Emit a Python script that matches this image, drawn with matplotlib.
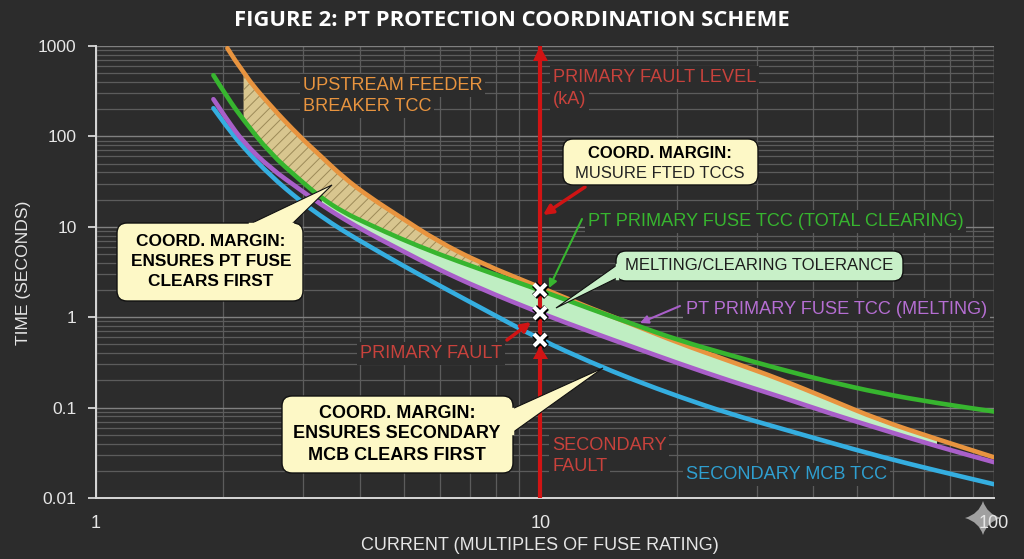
import numpy as np
import matplotlib
matplotlib.use("Agg")
import matplotlib.pyplot as plt
from matplotlib.patches import FancyBboxPatch, Polygon, PathPatch
from matplotlib.path import Path
from matplotlib.ticker import LogLocator, NullFormatter

plt.rcParams['font.family'] = ['Liberation Sans', 'DejaVu Sans']
plt.rcParams['hatch.linewidth'] = 0.7

TITLE = "FIGURE 2: PT PROTECTION COORDINATION SCHEME"
X_LABEL = "CURRENT (MULTIPLES OF FUSE RATING)"
Y_LABEL = "TIME (SECONDS)"

current = [1.905, 2.045, 2.22, 2.54, 2.96, 3.28, 3.68, 4.2, 4.92, 5.9, 7.38, 10, 13, 16,
           20.3, 26, 33.8, 43, 56, 75, 100]
feeder_tcc = [np.nan, 945, 490, 219, 98, 61, 35.4, 21.4, 12.8, 7.08, 3.98, 2.14, 1.24, 0.83,
              0.513, 0.33, 0.206, 0.126, 0.0726, 0.0447, 0.0282]
total_clearing = [475, 269, 151, 65, 32.7, 21.2, 14.5, 10.6, 7.4, 5.1, 3.39, 1.99, 1.217, 0.84,
                  0.55, 0.385, 0.266, 0.195, 0.1445, 0.112, 0.0905]
melting = [258, 151, 86, 44.7, 25.7, 17.8, 12.3, 8.4, 5.56, 3.47, 2.07, 1.11, 0.68, 0.468,
           0.305, 0.2, 0.132, 0.088, 0.0582, 0.0372, 0.0249]
mcb_tcc = [205, 125, 75, 37, 19.3, 13.2, 9.0, 6.1, 3.86, 2.34, 1.28, 0.565, 0.313, 0.204,
           0.131, 0.0863, 0.059, 0.0418, 0.0288, 0.02, 0.0142]
fault_current = [10, 10, 10]
fault_times = [2.0, 1.1, 0.56]

x_ticks = [1.05, 10, 100]
x_tick_labels = ["1", "10", "100"]
y_ticks = [0.01, 0.1, 1, 10, 100, 1000]
y_tick_labels = ["0.01", "0.1", "1", "10", "100", "1000"]

BG = '#2c2c2c'
ORANGE, GREEN, PURPLE, BLUE, RED = '#e8943f', '#37b52f', '#a95fc9', '#35aee0', '#d01414'
TEXT_RED = '#c8423c'
W, H = 1024, 559

fig = plt.figure(figsize=(W / 100, H / 100), dpi=100, facecolor=BG)

# corner sparkle sits behind the tick labels
bg = fig.add_axes([0, 0, 1, 1], facecolor='none', zorder=-1)
bg.set_xlim(0, W)
bg.set_ylim(H, 0)
bg.axis('off')
cx, cy, rx, ry, k = 983, 518, 18, 17, 4
verts = [(cx, cy - ry), (cx + k, cy - k), (cx + rx, cy), (cx + k, cy + k), (cx, cy + ry),
         (cx - k, cy + k), (cx - rx, cy), (cx - k, cy - k), (cx, cy - ry)]
bg.add_patch(PathPatch(Path(verts, [Path.MOVETO] + [Path.CURVE3] * 8), fc='#a0a0a0', ec='none'))

ax = fig.add_axes([96 / W, 1 - 498 / H, (994 - 96) / W, (498 - 46) / H], facecolor=BG, zorder=0)
ax.set_xscale('log')
ax.set_yscale('log')
ax.set_xlim(1.05, 100)
ax.set_ylim(0.01, 1000)
ax.xaxis.set_minor_locator(LogLocator(subs=range(2, 10), numticks=12))
ax.yaxis.set_minor_locator(LogLocator(subs=range(2, 10), numticks=12))
ax.set_xticks(x_ticks, x_tick_labels)
ax.set_yticks(y_ticks, y_tick_labels)
ax.xaxis.set_minor_formatter(NullFormatter())
ax.yaxis.set_minor_formatter(NullFormatter())
ax.grid(True, which='major', color='#808080', lw=1.0)
ax.grid(True, which='minor', color='#5c5c5c', lw=0.9)
ax.set_axisbelow(True)
ax.tick_params(which='minor', length=0)
ax.tick_params(axis='x', which='major', length=0, colors='#e6e6e6', labelsize=13, pad=12)
ax.tick_params(axis='y', which='major', length=6, width=1.2, colors='#e6e6e6', labelsize=12.5, pad=8)
for s in ('top', 'right'):
    ax.spines[s].set_visible(False)
for s in ('left', 'bottom'):
    ax.spines[s].set_color('#d8d8d8')
    ax.spines[s].set_linewidth(1.4)

cur = np.array(current)
fd, tc, me, mc = map(np.array, (feeder_tcc, total_clearing, melting, mcb_tcc))

# hatched margin, feeder to total clearing
mask = (cur >= 2.22) & (cur <= 7.38)
ax.fill_between(cur[mask], tc[mask], fd[mask], facecolor='#d8c68f', edgecolor='#9c8a58',
                hatch='///', lw=0, zorder=2)
# tolerance band
mask = (cur >= 3.28) & (cur <= 75)
ax.fill_between(cur[mask], me[mask], np.minimum(tc, fd)[mask], facecolor='#bfeec2',
                edgecolor='#111111', lw=1, zorder=2)


def curve(x, y, color, z):
    ok = ~np.isnan(y)
    x, y = x[ok], y[ok]
    verts = [(x[0], y[0])]
    codes = [Path.MOVETO]
    for i in range(1, len(x) - 1):
        verts += [(x[i], y[i]), (np.sqrt(x[i] * x[i + 1]), np.sqrt(y[i] * y[i + 1]))]
        codes += [Path.CURVE3, Path.CURVE3]
    verts.append((x[-1], y[-1]))
    codes.append(Path.LINETO)
    ax.add_patch(PathPatch(Path(verts, codes), fc='none', ec=color, lw=3.3, zorder=z,
                           capstyle='round', joinstyle='round'))


curve(cur, fd, ORANGE, 3)
curve(cur, mc, BLUE, 3)
curve(cur, me, PURPLE, 3)
curve(cur, tc, GREEN, 4)

ax.plot([10, 10], [0.01, 1000], color=RED, lw=3, zorder=5)
ax.plot(fault_current, fault_times, ls='none', marker='x', ms=8, mew=5, color='black', zorder=6)
ax.plot(fault_current, fault_times, ls='none', marker='x', ms=8, mew=3, color='white', zorder=7)

# overlay in pixel coordinates for callouts and labels
ov = fig.add_axes([0, 0, 1, 1], facecolor='none', zorder=1)
ov.set_xlim(0, W)
ov.set_ylim(H, 0)
ov.axis('off')

fig.text(512 / W, 1 - 21 / H, TITLE, color='white', fontsize=15.8, fontweight='bold',
         family=['Open Sans', 'DejaVu Sans'], ha='center', va='center')
fig.text(540 / W, 1 - 545 / H, X_LABEL, color='#e6e6e6', fontsize=13, ha='center', va='center')
fig.text(24 / W, 1 - 273 / H, Y_LABEL, color='#e6e6e6', fontsize=12.6, rotation=90,
         ha='center', va='center')


def label(x, y, s, color, size=13.05):
    ov.text(x, y + 1.5, s, color=color, fontsize=size, ha='left', va='center',
            bbox=dict(fc=BG, ec='none', pad=2), zorder=3)


label(303, 84, "UPSTREAM FEEDER", ORANGE)
label(303, 105, "BREAKER TCC", ORANGE)
label(553, 76, "PRIMARY FAULT LEVEL", TEXT_RED)
label(553, 98, "(kA)", TEXT_RED)
label(588, 220, "PT PRIMARY FUSE TCC (TOTAL CLEARING)", GREEN)
label(686, 308, "PT PRIMARY FUSE TCC (MELTING)", '#b56ed2')
label(360, 352, "PRIMARY FAULT", TEXT_RED)
label(552, 444, "SECONDARY", TEXT_RED)
label(552, 465, "FAULT", TEXT_RED)
label(686, 473, "SECONDARY MCB TCC", '#2f9fd0')


def callout(x0, y0, x1, y1, fc, tail=None, ec='#111111'):
    ov.add_patch(FancyBboxPatch((x0 + 8, y0 + 8), x1 - x0 - 16, y1 - y0 - 16,
                                boxstyle='round,pad=8,rounding_size=10', fc=fc, ec=ec, lw=1, zorder=5))
    if tail:
        ov.add_patch(Polygon(tail, closed=True, fc=fc, ec=ec, lw=0.8, zorder=5.5))
        ov.plot([tail[0][0], tail[2][0]], [tail[0][1], tail[2][1]], color=fc, lw=2.5, zorder=5.6)


def lines(x, ys, strs, size, **kw):
    for y, s in zip(ys, strs):
        ov.text(x, y, s, fontsize=size, ha='center', va='center', zorder=6, **kw)


CREAM = '#fdf8c6'
callout(117, 223, 303, 301, CREAM, [(250, 224), (332, 185), (292, 224)])
lines(211, (241, 262, 282), ("COORD. MARGIN:", "ENSURES PT FUSE", "CLEARS FIRST"), 12.4,
      color='black', fontweight='bold')
callout(563, 139, 758, 185, CREAM)
lines(660, (153,), ("COORD. MARGIN:",), 12, color='black', fontweight='bold')
lines(660, (174,), ("MUSURE FTED TCCS",), 12, color='#222222')
callout(282, 396, 513, 473, CREAM, [(512, 409), (603, 368), (512, 433)])
lines(397, (413, 434, 456), ("COORD. MARGIN:", "ENSURES SECONDARY", "MCB CLEARS FIRST"), 13,
      color='black', fontweight='bold')
callout(616, 251, 903, 281, '#c8f0c8', [(617, 265), (556, 308), (617, 278)])
lines(759, (265,), ("MELTING/CLEARING TOLERANCE",), 12, color='#1c1c1c')


def arrow(p0, p1, color, lw=1.5, ms=12):
    ov.annotate('', xy=p1, xytext=p0, zorder=4,
                arrowprops=dict(arrowstyle='-|>', color=color, lw=lw, mutation_scale=ms, shrinkA=0, shrinkB=0))


arrow((582, 219), (549, 288), GREEN)
arrow((680, 306), (640, 323), PURPLE)
arrow((507, 340), (531, 322), RED, lw=2.5, ms=14)
arrow((585, 187), (543, 215), RED, lw=2.5, ms=14)
ov.add_patch(Polygon([(533, 61), (540, 46), (548, 61)], fc=RED, ec='none', zorder=6))
ov.add_patch(Polygon([(533, 359), (540, 346), (548, 359)], fc=RED, ec='none', zorder=6))

fig.savefig('out.png', dpi=100, facecolor=BG)
